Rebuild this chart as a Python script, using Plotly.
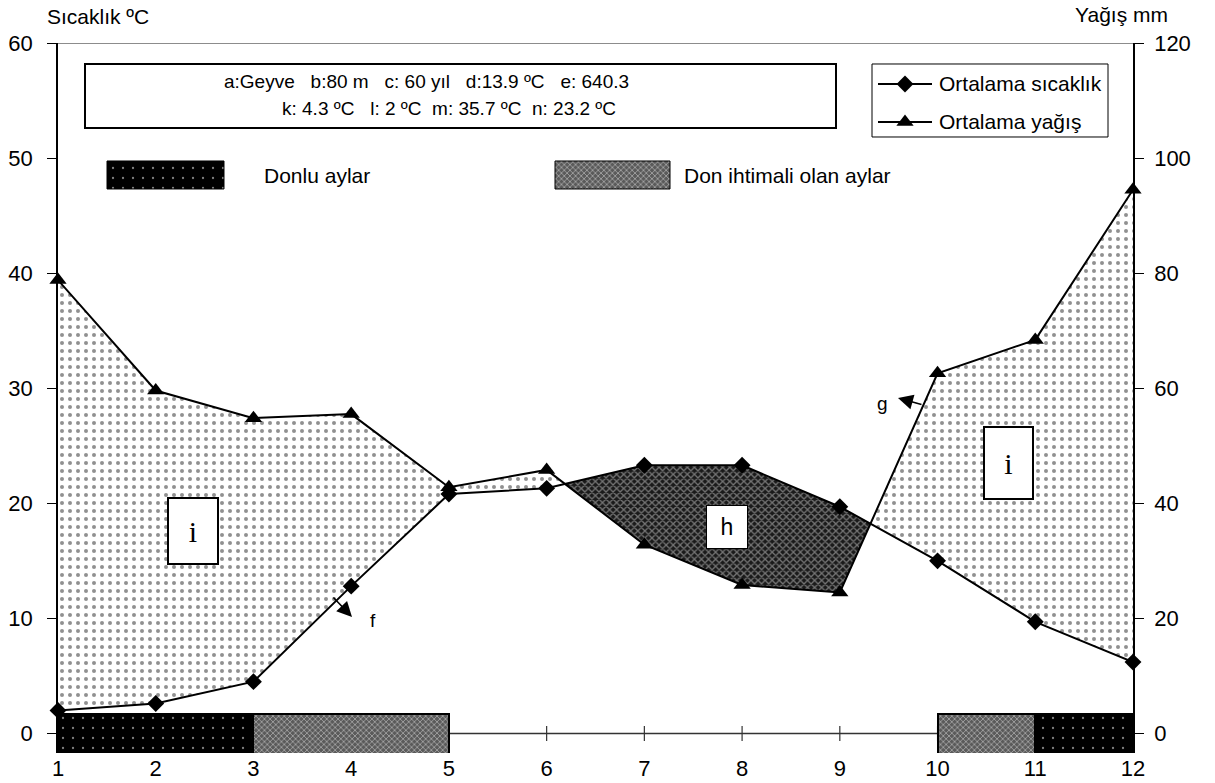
import numpy as np
import plotly.graph_objects as go

# ---------------- data ----------------
months = list(range(1, 13))
temp = [2.0, 2.6, 4.5, 12.8, 20.8, 21.3, 23.3, 23.3, 19.7, 15.0, 9.7, 6.2]          # °C
precip = [78.8, 59.6, 54.8, 55.5, 42.8, 45.8, 32.8, 25.8, 24.5, 62.6, 68.4, 94.5]   # mm
frost_ranges = [(1, 3), (11, 12)]        # Donlu aylar
prob_frost_ranges = [(3, 5), (10, 11)]   # Don ihtimali olan aylar
temp_ticks = [0, 10, 20, 30, 40, 50, 60]
precip_ticks = [0, 20, 40, 60, 80, 100, 120]
info_line1 = "a:Geyve   b:80 m   c: 60 yıl   d:13.9 ºC   e: 640.3"
info_line2 = "k: 4.3 ºC   l: 2 ºC  m: 35.7 ºC  n: 23.2 ºC"

# ---------------- geometry (page pixels) ----------------
W, H = 1215, 783
PX_L, PX_R = 58, 1133          # x = 1 and x = 12
PY_TOP, PY_0 = 43, 733.5       # y = 60 and y = 0
UPP = (PY_0 - PY_TOP) / 60.0   # px per °C
Y_LO = -1.7
PY_BOT = PY_0 - Y_LO * UPP
ML = PX_L
MR = W - PX_R
MT = PY_TOP
MB = H - PY_BOT

def px2x(px):
    return 1 + (px - PX_L) * 11 / (PX_R - PX_L)
def px2y(py):
    return (PY_0 - py) / UPP
def px2paperx(px):
    return (px - PX_L) / (PX_R - PX_L)
def px2papery(py):
    return (PY_BOT - py) / (PY_BOT - PY_TOP)

FONT = "Liberation Sans, Arial, sans-serif"
SERIF = "Liberation Serif, Times New Roman, serif"

fig = go.Figure()

# ---------------- humid / arid polygons ----------------
x = np.array(months, dtype=float)
p = np.array(precip) / 2.0
t = np.array(temp)
d = p - t
runs = []
cur = [(x[0], p[0], t[0])]
for i in range(len(x) - 1):
    if np.sign(d[i]) != np.sign(d[i + 1]) and d[i] != 0 and d[i + 1] != 0:
        frac = d[i] / (d[i] - d[i + 1])
        xc = x[i] + frac
        yc = t[i] + (t[i + 1] - t[i]) * frac
        cur.append((xc, yc, yc))
        runs.append((np.sign(d[i]), cur))
        cur = [(xc, yc, yc)]
    cur.append((x[i + 1], p[i + 1], t[i + 1]))
runs.append((np.sign(d[-1]), cur))

wet_pat = dict(shape=".", bgcolor="white", fgcolor="#222222", size=8, solidity=0.2)
dry_pat = dict(shape="x", bgcolor="#1a1a1a", fgcolor="#d0d0d0", size=5, solidity=0.45)
for sgn, pts in runs:
    xs = [q[0] for q in pts]
    ps = [q[1] for q in pts]
    ts = [q[2] for q in pts]
    fig.add_trace(go.Scatter(x=xs + xs[::-1], y=ps + ts[::-1], mode="lines", fill="toself",
                             fillpattern=wet_pat if sgn > 0 else dry_pat,
                             fillcolor="white" if sgn > 0 else "#444",
                             line=dict(width=0), hoverinfo="skip", showlegend=False))

# ---------------- frost bars ----------------
bar_top, bar_bot = 1.65, -1.8
frost_pat = dict(shape=".", bgcolor="black", fgcolor="white", size=10, solidity=0.04)
prob_pat = dict(shape="x", bgcolor="#5a5a5a", fgcolor="white", size=4, solidity=0.35)
for (a, b) in frost_ranges:
    fig.add_trace(go.Bar(x=[(a + b) / 2], y=[bar_top - bar_bot], base=[bar_bot], width=[b - a],
                         marker=dict(color="black", pattern=frost_pat, line=dict(color="black", width=2)),
                         showlegend=False, hoverinfo="skip", cliponaxis=False))
for (a, b) in prob_frost_ranges:
    fig.add_trace(go.Bar(x=[(a + b) / 2], y=[bar_top - bar_bot], base=[bar_bot], width=[b - a],
                         marker=dict(color="#888", pattern=prob_pat, line=dict(color="black", width=2)),
                         showlegend=False, hoverinfo="skip", cliponaxis=False))

# ---------------- main series ----------------
fig.add_trace(go.Scatter(x=months, y=temp, mode="lines+markers", name="Ortalama sıcaklık",
                         line=dict(color="black", width=2),
                         marker=dict(symbol="diamond", size=13, color="black"), yaxis="y",
                         showlegend=False, cliponaxis=False))
fig.add_trace(go.Scatter(x=months, y=precip, mode="lines+markers", name="Ortalama yağış",
                         line=dict(color="black", width=2),
                         marker=dict(symbol="triangle-up", size=15, color="black"), yaxis="y2",
                         showlegend=False, cliponaxis=False))

# ---------------- legend (drawn manually) ----------------
LEG_X0, LEG_X1, LEG_Y0, LEG_Y1 = 872, 1108, 64, 137
leg_rows = [("Ortalama sıcaklık", "diamond", 13, 84), ("Ortalama yağış", "triangle-up", 15, 122)]
for name, sym, msz, py in leg_rows:
    fig.add_trace(go.Scatter(x=[px2x(878), px2x(932)], y=[px2y(py)] * 2,
                             mode="lines", line=dict(color="black", width=2),
                             showlegend=False, hoverinfo="skip"))
    fig.add_trace(go.Scatter(x=[px2x(905)], y=[px2y(py)], mode="markers",
                             marker=dict(symbol=sym, size=msz, color="black"),
                             showlegend=False, hoverinfo="skip"))

def swatch(px0, px1, py0, py1, pat, col):
    xs = [px2x(px0), px2x(px1), px2x(px1), px2x(px0), px2x(px0)]
    ys = [px2y(py0), px2y(py0), px2y(py1), px2y(py1), px2y(py0)]
    fig.add_trace(go.Scatter(x=xs, y=ys, mode="lines", fill="toself", fillcolor=col,
                             fillpattern=pat, line=dict(color="black", width=1),
                             showlegend=False, hoverinfo="skip"))
swatch(107, 224, 161, 189, frost_pat, "black")
swatch(555, 670, 161, 189, prob_pat, "#888")

# ---------------- shapes ----------------
shapes = []
shapes.append(dict(type="line", xref="x", yref="y", x0=1, x1=12, y0=60, y1=60,
                   line=dict(color="#8c8c8c", width=2)))
shapes.append(dict(type="line", xref="x", yref="y", x0=1, x1=12, y0=0, y1=0,
                   line=dict(color="#333", width=1.5), layer="below"))
for m in months:
    shapes.append(dict(type="line", xref="x", yref="y", x0=m, x1=m, y0=-0.65, y1=0.65,
                       line=dict(color="#333", width=1.2), layer="below"))
shapes.append(dict(type="rect", xref="paper", yref="paper",
                   x0=px2paperx(85), x1=px2paperx(836), y0=px2papery(64), y1=px2papery(128),
                   line=dict(color="black", width=2), fillcolor="white", layer="below"))
shapes.append(dict(type="rect", xref="paper", yref="paper",
                   x0=px2paperx(LEG_X0), x1=px2paperx(LEG_X1), y0=px2papery(LEG_Y0), y1=px2papery(LEG_Y1),
                   line=dict(color="black", width=1), fillcolor="white", layer="below"))

# ---------------- annotations ----------------
nb = lambda s: s.replace(" ", "\u00a0")
def txt(px, py, s, size, xanchor="center", family=FONT):
    return dict(xref="paper", yref="paper", x=px2paperx(px), y=px2papery(py), xanchor=xanchor,
                yanchor="middle", text=nb(s), showarrow=False,
                font=dict(size=size, family=family, color="black"))
ann = []
ann.append(txt(98, 16, "Sıcaklık ºC", 21))
ann.append(txt(1121, 14, "Yağış mm", 21))
ann.append(txt(222, 82, info_line1, 19, "left"))
ann.append(txt(280, 109, info_line2, 19, "left"))
for name, sym, msz, py in leg_rows:
    ann.append(txt(937, py, name, 21, "left"))
ann.append(txt(262, 176, "Donlu aylar", 21, "left"))
ann.append(txt(682, 176, "Don ihtimali olan aylar", 21, "left"))
# i boxes
for cx, cy, bw, bh in [(193, 531, 48, 64), (1008.5, 463, 47, 70)]:
    ann.append(dict(x=px2x(cx), y=px2y(cy), text="i", showarrow=False, width=bw, height=bh,
                    bordercolor="black", borderwidth=2, borderpad=0, bgcolor="white",
                    font=dict(size=30, family=SERIF, color="black")))
# h box
ann.append(dict(x=px2x(726.5), y=px2y(527.5), text="h", showarrow=False, width=40, height=42,
                bordercolor="black", borderwidth=1, borderpad=0, bgcolor="white",
                font=dict(size=23, family=FONT, color="black")))
# arrows f, g
ann.append(dict(x=px2x(352), y=px2y(617), ax=-20, ay=-21, text="", showarrow=True,
                arrowhead=2, arrowsize=2, arrowwidth=1.5, arrowcolor="black"))
ann.append(dict(x=px2x(373), y=px2y(621), text="f", showarrow=False,
                font=dict(size=19, family=FONT, color="black")))
ann.append(dict(x=px2x(898), y=px2y(398), ax=25, ay=7, text="", showarrow=True,
                arrowhead=2, arrowsize=2, arrowwidth=1.5, arrowcolor="black"))
ann.append(dict(x=px2x(882), y=px2y(404), text="g", showarrow=False,
                font=dict(size=19, family=FONT, color="black")))

fig.update_layout(
    width=W, height=H,
    margin=dict(l=ML, r=MR, t=MT, b=MB, pad=0, autoexpand=False),
    paper_bgcolor="white", plot_bgcolor="white",
    barmode="overlay", bargap=0, showlegend=False,
    font=dict(family=FONT, color="black", size=22),
    shapes=shapes, annotations=ann,
    xaxis=dict(range=[1, 12], tickvals=months, ticktext=[str(m) for m in months],
               showgrid=False, zeroline=False, showline=False, ticks="", ticklen=0,
               automargin=False, ticklabelstandoff=0, tickfont=dict(size=22, family=FONT)),
    yaxis=dict(range=[Y_LO, 60], tickvals=temp_ticks, showgrid=False, zeroline=False,
               showline=True, linecolor="black", linewidth=1.5, ticks="outside", automargin=False,
               ticklen=9, tickcolor="black", ticklabelstandoff=10, tickfont=dict(size=22, family=FONT)),
    yaxis2=dict(range=[Y_LO * 2, 120], tickvals=precip_ticks, overlaying="y", side="right",
                showgrid=False, zeroline=False, showline=True, linecolor="black", linewidth=1.5,
                ticks="outside", ticklen=9, tickcolor="black", automargin=False,
                ticklabelstandoff=6, tickfont=dict(size=22, family=FONT)),
)

fig.write_html("out.html", config={"displayModeBar": False},
               post_script="document.body.style.margin='0px';document.body.style.overflow='hidden';")
